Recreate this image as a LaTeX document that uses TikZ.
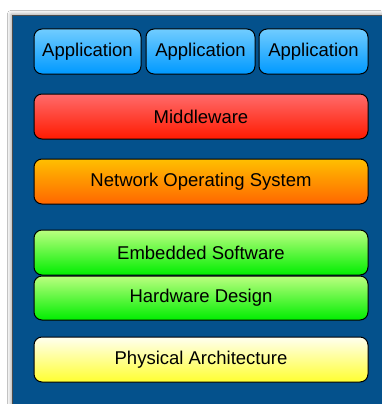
\documentclass[tikz,border=0pt]{standalone}
\usepackage{fontspec}
\setmainfont{Liberation Sans}
\usetikzlibrary{shadows.blur}
\definecolor{bgblue}{HTML}{04518C}
\definecolor{apptop}{HTML}{70CCFF}
\definecolor{appbot}{HTML}{0099FF}
\definecolor{midtop}{HTML}{FF6B6B}
\definecolor{midbot}{HTML}{FF1A00}
\definecolor{nostop}{HTML}{FFBF00}
\definecolor{nosbot}{HTML}{FF6600}
\definecolor{grntop}{HTML}{BBFF80}
\definecolor{grnbot}{HTML}{00EE00}
\definecolor{yeltop}{HTML}{FFFFF0}
\definecolor{yelbot}{HTML}{FFFF30}
\tikzset{
  layer/.style={draw=black, line width=1pt, rounded corners=8pt, font=\fontsize{18.5}{21}\selectfont, text=black, inner sep=0pt},
  appbox/.style={layer, top color=apptop, bottom color=appbot},
  midbox/.style={layer, top color=midtop, bottom color=midbot},
  nosbox/.style={layer, top color=nostop, bottom color=nosbot},
  grnbox/.style={layer, top color=grntop, bottom color=grnbot},
  yelbox/.style={layer, top color=yeltop, bottom color=yelbot},
}
\begin{document}
\begin{tikzpicture}[x=1pt,y=-1pt]
\useasboundingbox (0,0) rectangle (381,404);
\fill[white] (0,0) rectangle (381,404);
\node[fill=bgblue, draw=black!70, line width=0.6pt, inner sep=0pt, minimum width=380pt, minimum height=400pt, anchor=north west, blur shadow={shadow xshift=-1pt, shadow yshift=1pt, shadow blur radius=4pt, shadow opacity=40}] (bg) at (12,15) {};
\node[appbox, minimum width=107pt, minimum height=45pt] (app1) at (87.5,51.5) {Application};
\node[appbox, minimum width=109pt, minimum height=45pt] (app2) at (200.5,51.5) {Application};
\node[appbox, minimum width=109pt, minimum height=45pt] (app3) at (313.5,51.5) {Application};
\node[midbox, minimum width=334pt, minimum height=45pt] (mid) at (201,116.5) {Middleware};
\node[nosbox, minimum width=334pt, minimum height=45pt] (nos) at (201,181.5) {Network Operating System};
\node[grnbox, minimum width=334pt, minimum height=45pt] (emb) at (201,252.5) {Embedded Software};
\node[grnbox, minimum width=334pt, minimum height=44pt] (hw) at (201,298) {Hardware Design};
\node[yelbox, minimum width=334pt, minimum height=45pt] (phy) at (201,359.5) {Physical Architecture};
\end{tikzpicture}
\end{document}
